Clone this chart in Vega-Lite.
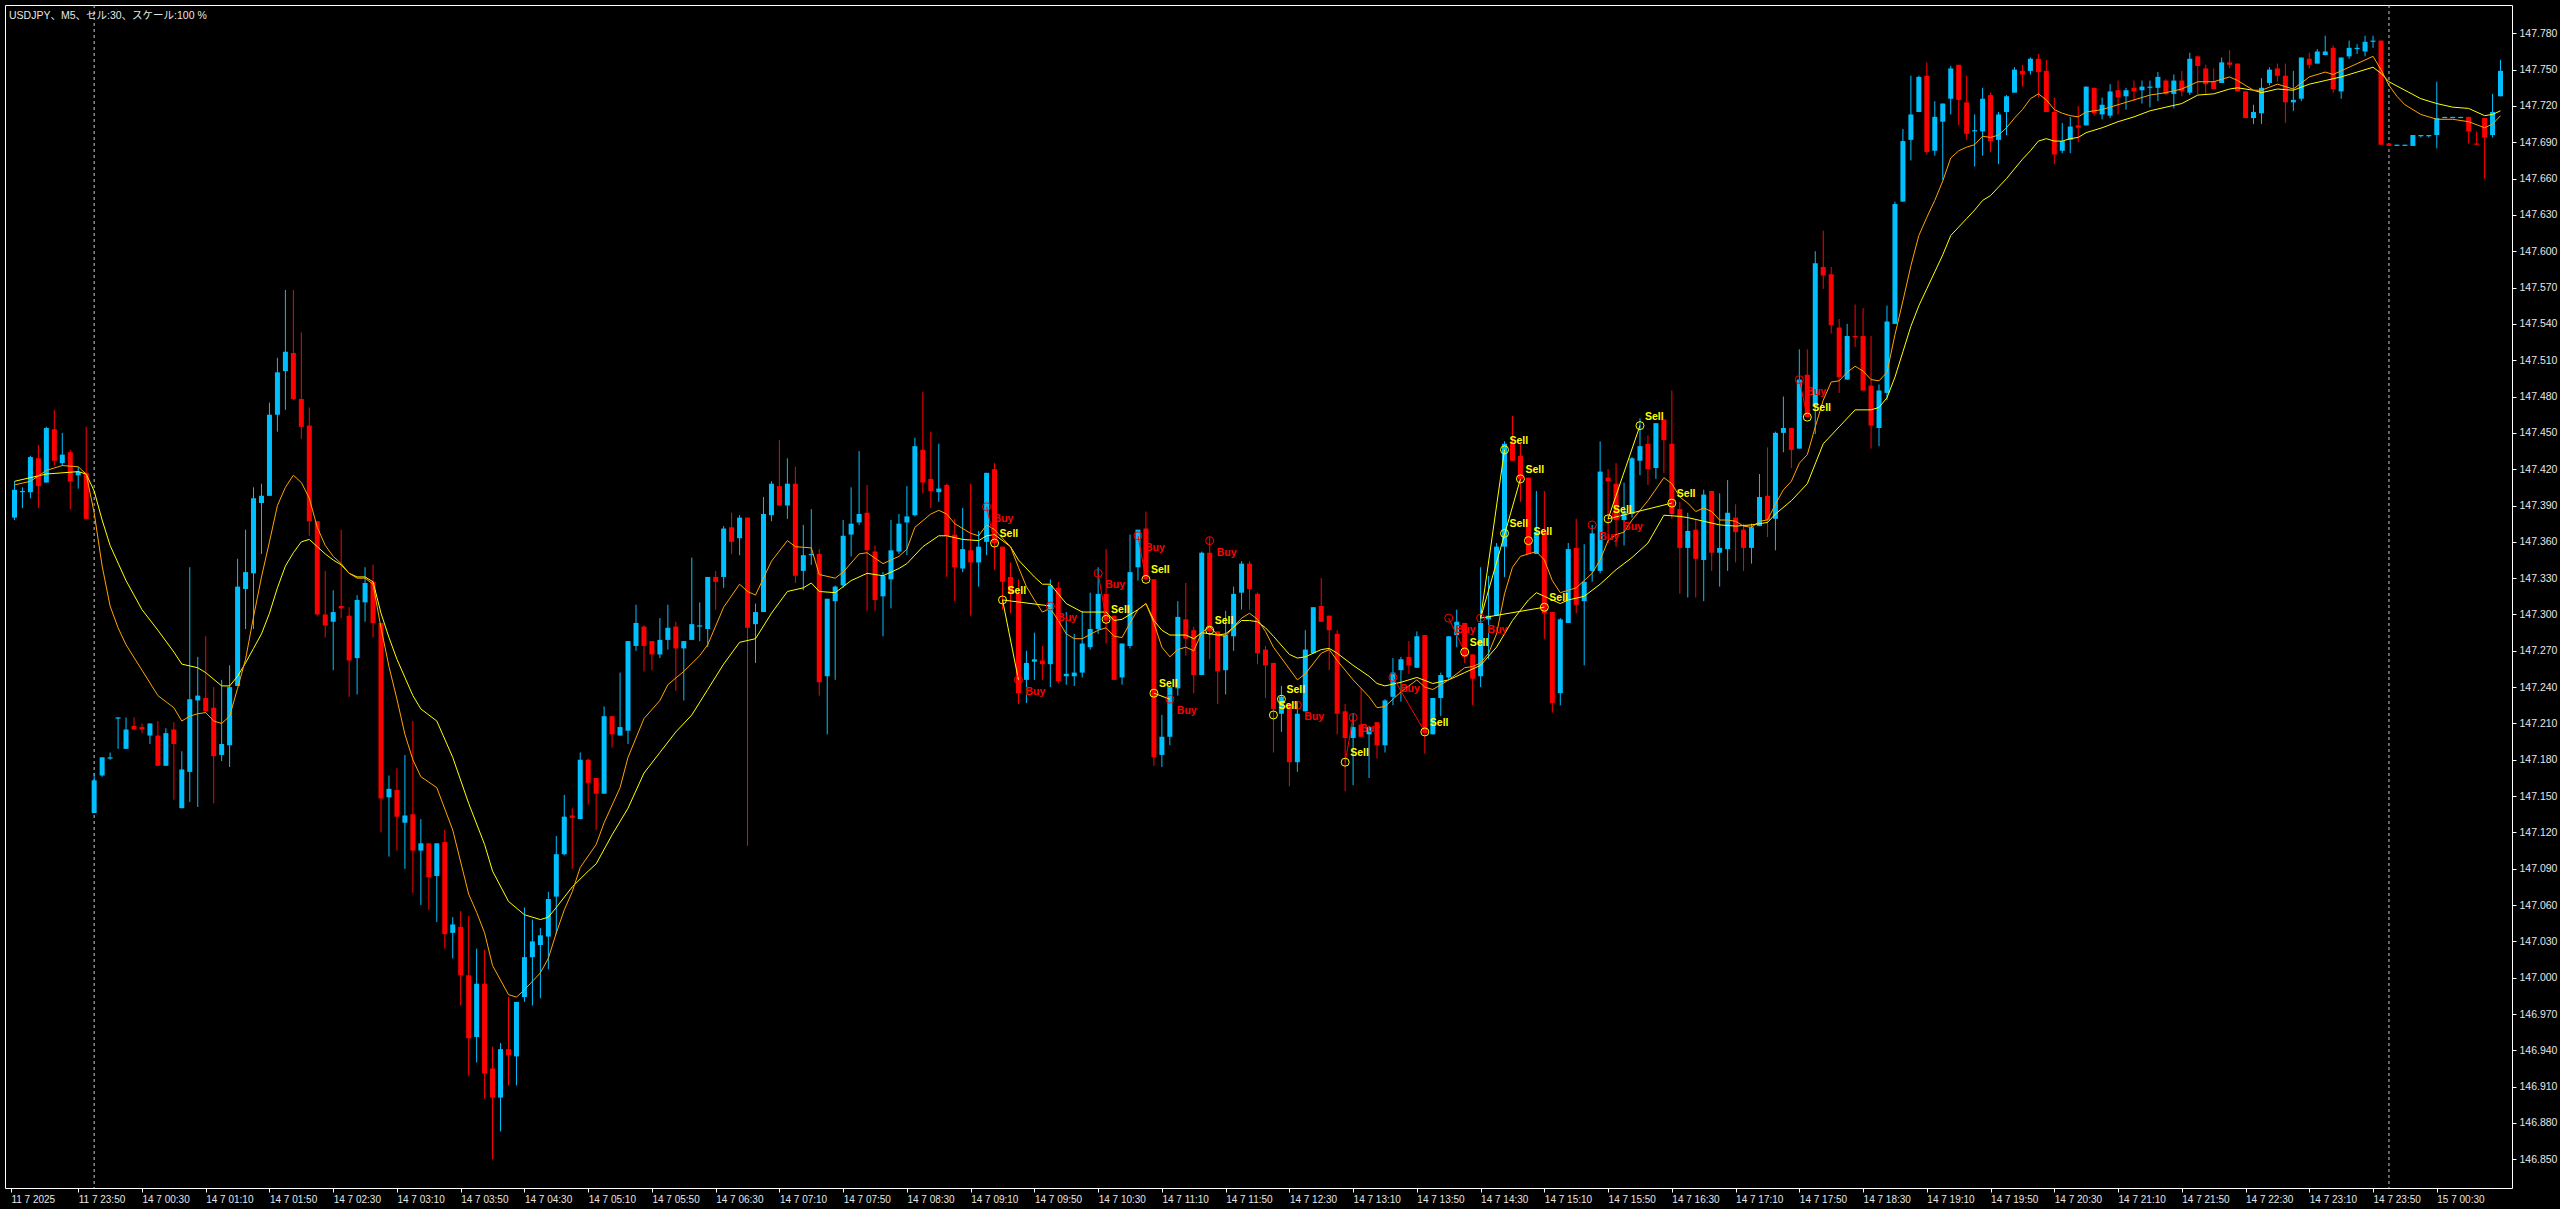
{
"$schema":"https://vega.github.io/schema/vega-lite/v6.json",
"width":2507,"height":1183,
"autosize":{"type":"none"},
"padding":{"left":5,"top":5,"right":48,"bottom":21},
"background":"#000000",
"config":{"view":{"stroke":"#ffffff","strokeWidth":1},"axis":{"grid":false,"domain":false,"labelOverlap":false,"labelSeparation":0}},
"title":{"text":"USDJPY、M5、セル:30、スケール:100 %","anchor":"start","frame":"group","orient":"top","baseline":"top","offset":-17,"dx":4,"fontSize":10.5,"fontWeight":"normal","color":"#e6e6e6","font":"Liberation Sans, Noto Sans CJK JP"},
"datasets":{
"candles":[
{"i":-10,"o":147.380,"h":147.410,"l":147.378,"c":147.403},
{"i":-9,"o":147.401,"h":147.405,"l":147.388,"c":147.402},
{"i":-8,"o":147.401,"h":147.431,"l":147.396,"c":147.430},
{"i":-7,"o":147.429,"h":147.440,"l":147.388,"c":147.406},
{"i":-6,"o":147.409,"h":147.455,"l":147.409,"c":147.454},
{"i":-5,"o":147.453,"h":147.469,"l":147.423,"c":147.427},
{"i":-4,"o":147.425,"h":147.450,"l":147.423,"c":147.432},
{"i":-3,"o":147.434,"h":147.436,"l":147.387,"c":147.410},
{"i":-2,"o":147.415,"h":147.422,"l":147.404,"c":147.418},
{"i":-1,"o":147.417,"h":147.455,"l":147.379,"c":147.379},
{"i":0,"o":147.136,"h":147.169,"l":147.136,"c":147.163},
{"i":1,"o":147.167,"h":147.182,"l":147.166,"c":147.182},
{"i":2,"o":147.181,"h":147.186,"l":147.180,"c":147.182},
{"i":3,"o":147.214,"h":147.215,"l":147.189,"c":147.215},
{"i":4,"o":147.189,"h":147.215,"l":147.189,"c":147.205},
{"i":5,"o":147.208,"h":147.215,"l":147.205,"c":147.205},
{"i":6,"o":147.207,"h":147.210,"l":147.202,"c":147.205},
{"i":7,"o":147.200,"h":147.210,"l":147.193,"c":147.210},
{"i":8,"o":147.200,"h":147.212,"l":147.175,"c":147.175},
{"i":9,"o":147.175,"h":147.206,"l":147.175,"c":147.202},
{"i":10,"o":147.205,"h":147.211,"l":147.147,"c":147.193},
{"i":11,"o":147.140,"h":147.187,"l":147.140,"c":147.172},
{"i":12,"o":147.170,"h":147.339,"l":147.145,"c":147.230},
{"i":13,"o":147.229,"h":147.265,"l":147.141,"c":147.233},
{"i":14,"o":147.231,"h":147.282,"l":147.219,"c":147.220},
{"i":15,"o":147.223,"h":147.240,"l":147.144,"c":147.183},
{"i":16,"o":147.184,"h":147.246,"l":147.179,"c":147.193},
{"i":17,"o":147.192,"h":147.258,"l":147.174,"c":147.240},
{"i":18,"o":147.241,"h":147.346,"l":147.241,"c":147.323},
{"i":19,"o":147.321,"h":147.370,"l":147.288,"c":147.335},
{"i":20,"o":147.334,"h":147.405,"l":147.288,"c":147.396},
{"i":21,"o":147.392,"h":147.408,"l":147.350,"c":147.398},
{"i":22,"o":147.398,"h":147.475,"l":147.398,"c":147.465},
{"i":23,"o":147.465,"h":147.512,"l":147.451,"c":147.500},
{"i":24,"o":147.501,"h":147.568,"l":147.469,"c":147.517},
{"i":25,"o":147.516,"h":147.568,"l":147.477,"c":147.478},
{"i":26,"o":147.478,"h":147.533,"l":147.445,"c":147.455},
{"i":27,"o":147.456,"h":147.471,"l":147.365,"c":147.377},
{"i":28,"o":147.377,"h":147.377,"l":147.299,"c":147.300},
{"i":29,"o":147.300,"h":147.336,"l":147.281,"c":147.291},
{"i":30,"o":147.294,"h":147.320,"l":147.254,"c":147.302},
{"i":31,"o":147.307,"h":147.370,"l":147.297,"c":147.305},
{"i":32,"o":147.299,"h":147.306,"l":147.232,"c":147.262},
{"i":33,"o":147.264,"h":147.316,"l":147.234,"c":147.312},
{"i":34,"o":147.310,"h":147.339,"l":147.294,"c":147.326},
{"i":35,"o":147.327,"h":147.341,"l":147.281,"c":147.293},
{"i":36,"o":147.293,"h":147.293,"l":147.120,"c":147.148},
{"i":37,"o":147.149,"h":147.167,"l":147.100,"c":147.156},
{"i":38,"o":147.155,"h":147.173,"l":147.105,"c":147.133},
{"i":39,"o":147.128,"h":147.184,"l":147.090,"c":147.134},
{"i":40,"o":147.135,"h":147.212,"l":147.070,"c":147.105},
{"i":41,"o":147.105,"h":147.131,"l":147.060,"c":147.111},
{"i":42,"o":147.111,"h":147.111,"l":147.056,"c":147.083},
{"i":43,"o":147.084,"h":147.111,"l":147.046,"c":147.111},
{"i":44,"o":147.112,"h":147.122,"l":147.024,"c":147.036},
{"i":45,"o":147.037,"h":147.050,"l":147.016,"c":147.044},
{"i":46,"o":147.042,"h":147.055,"l":146.977,"c":147.002},
{"i":47,"o":147.002,"h":147.051,"l":146.919,"c":146.950},
{"i":48,"o":146.951,"h":147.024,"l":146.930,"c":146.995},
{"i":49,"o":146.995,"h":147.023,"l":146.900,"c":146.921},
{"i":50,"o":146.925,"h":146.943,"l":146.850,"c":146.901},
{"i":51,"o":146.901,"h":146.946,"l":146.873,"c":146.941},
{"i":52,"o":146.941,"h":146.984,"l":146.911,"c":146.936},
{"i":53,"o":146.935,"h":146.980,"l":146.911,"c":146.980},
{"i":54,"o":146.984,"h":147.058,"l":146.980,"c":147.017},
{"i":55,"o":147.017,"h":147.048,"l":146.977,"c":147.030},
{"i":56,"o":147.027,"h":147.041,"l":146.983,"c":147.035},
{"i":57,"o":147.034,"h":147.071,"l":147.007,"c":147.065},
{"i":58,"o":147.067,"h":147.117,"l":147.036,"c":147.102},
{"i":59,"o":147.102,"h":147.151,"l":147.101,"c":147.133},
{"i":60,"o":147.134,"h":147.140,"l":147.090,"c":147.132},
{"i":61,"o":147.131,"h":147.186,"l":147.131,"c":147.180},
{"i":62,"o":147.180,"h":147.181,"l":147.143,"c":147.161},
{"i":63,"o":147.165,"h":147.165,"l":147.122,"c":147.152},
{"i":64,"o":147.152,"h":147.224,"l":147.152,"c":147.216},
{"i":65,"o":147.216,"h":147.216,"l":147.190,"c":147.201},
{"i":66,"o":147.200,"h":147.252,"l":147.200,"c":147.207},
{"i":67,"o":147.204,"h":147.278,"l":147.193,"c":147.278},
{"i":68,"o":147.274,"h":147.308,"l":147.270,"c":147.293},
{"i":69,"o":147.290,"h":147.291,"l":147.253,"c":147.274},
{"i":70,"o":147.278,"h":147.278,"l":147.254,"c":147.267},
{"i":71,"o":147.267,"h":147.297,"l":147.264,"c":147.279},
{"i":72,"o":147.279,"h":147.308,"l":147.271,"c":147.289},
{"i":73,"o":147.290,"h":147.294,"l":147.237,"c":147.272},
{"i":74,"o":147.272,"h":147.278,"l":147.229,"c":147.278},
{"i":75,"o":147.279,"h":147.347,"l":147.279,"c":147.292},
{"i":76,"o":147.290,"h":147.310,"l":147.278,"c":147.291},
{"i":77,"o":147.288,"h":147.331,"l":147.273,"c":147.331},
{"i":78,"o":147.331,"h":147.336,"l":147.304,"c":147.327},
{"i":79,"o":147.331,"h":147.373,"l":147.322,"c":147.371},
{"i":80,"o":147.372,"h":147.384,"l":147.350,"c":147.360},
{"i":81,"o":147.363,"h":147.382,"l":147.349,"c":147.380},
{"i":82,"o":147.380,"h":147.380,"l":147.109,"c":147.289},
{"i":83,"o":147.292,"h":147.309,"l":147.260,"c":147.302},
{"i":84,"o":147.302,"h":147.397,"l":147.302,"c":147.383},
{"i":85,"o":147.382,"h":147.410,"l":147.377,"c":147.408},
{"i":86,"o":147.406,"h":147.444,"l":147.390,"c":147.390},
{"i":87,"o":147.390,"h":147.429,"l":147.379,"c":147.408},
{"i":88,"o":147.408,"h":147.422,"l":147.326,"c":147.332},
{"i":89,"o":147.336,"h":147.374,"l":147.320,"c":147.349},
{"i":90,"o":147.349,"h":147.387,"l":147.341,"c":147.350},
{"i":91,"o":147.350,"h":147.354,"l":147.233,"c":147.244},
{"i":92,"o":147.249,"h":147.313,"l":147.201,"c":147.313},
{"i":93,"o":147.311,"h":147.324,"l":147.246,"c":147.323},
{"i":94,"o":147.324,"h":147.378,"l":147.322,"c":147.365},
{"i":95,"o":147.366,"h":147.405,"l":147.348,"c":147.375},
{"i":96,"o":147.376,"h":147.435,"l":147.374,"c":147.383},
{"i":97,"o":147.384,"h":147.407,"l":147.303,"c":147.353},
{"i":98,"o":147.352,"h":147.357,"l":147.303,"c":147.312},
{"i":99,"o":147.315,"h":147.335,"l":147.282,"c":147.332},
{"i":100,"o":147.329,"h":147.378,"l":147.305,"c":147.353},
{"i":101,"o":147.352,"h":147.383,"l":147.350,"c":147.375},
{"i":102,"o":147.376,"h":147.406,"l":147.349,"c":147.381},
{"i":103,"o":147.382,"h":147.446,"l":147.381,"c":147.439},
{"i":104,"o":147.436,"h":147.484,"l":147.400,"c":147.409},
{"i":105,"o":147.412,"h":147.451,"l":147.388,"c":147.402},
{"i":106,"o":147.401,"h":147.441,"l":147.393,"c":147.404},
{"i":107,"o":147.407,"h":147.408,"l":147.331,"c":147.365},
{"i":108,"o":147.366,"h":147.379,"l":147.311,"c":147.339},
{"i":109,"o":147.338,"h":147.388,"l":147.335,"c":147.354},
{"i":110,"o":147.353,"h":147.408,"l":147.299,"c":147.343},
{"i":111,"o":147.343,"h":147.369,"l":147.323,"c":147.356},
{"i":112,"o":147.360,"h":147.417,"l":147.349,"c":147.417},
{"i":113,"o":147.420,"h":147.425,"l":147.337,"c":147.359},
{"i":114,"o":147.356,"h":147.356,"l":147.304,"c":147.327},
{"i":115,"o":147.331,"h":147.343,"l":147.301,"c":147.317},
{"i":116,"o":147.317,"h":147.329,"l":147.226,"c":147.235},
{"i":117,"o":147.246,"h":147.270,"l":147.227,"c":147.260},
{"i":118,"o":147.261,"h":147.285,"l":147.246,"c":147.263},
{"i":119,"o":147.262,"h":147.274,"l":147.246,"c":147.259},
{"i":120,"o":147.259,"h":147.329,"l":147.240,"c":147.324},
{"i":121,"o":147.322,"h":147.327,"l":147.243,"c":147.245},
{"i":122,"o":147.249,"h":147.302,"l":147.242,"c":147.251},
{"i":123,"o":147.249,"h":147.284,"l":147.241,"c":147.252},
{"i":124,"o":147.252,"h":147.303,"l":147.248,"c":147.276},
{"i":125,"o":147.273,"h":147.318,"l":147.271,"c":147.288},
{"i":126,"o":147.288,"h":147.339,"l":147.284,"c":147.317},
{"i":127,"o":147.317,"h":147.354,"l":147.276,"c":147.295},
{"i":128,"o":147.299,"h":147.299,"l":147.246,"c":147.246},
{"i":129,"o":147.248,"h":147.276,"l":147.242,"c":147.276},
{"i":130,"o":147.274,"h":147.366,"l":147.272,"c":147.335},
{"i":131,"o":147.339,"h":147.370,"l":147.328,"c":147.370},
{"i":132,"o":147.371,"h":147.385,"l":147.328,"c":147.329},
{"i":133,"o":147.329,"h":147.329,"l":147.175,"c":147.182},
{"i":134,"o":147.184,"h":147.217,"l":147.174,"c":147.199},
{"i":135,"o":147.199,"h":147.240,"l":147.192,"c":147.240},
{"i":136,"o":147.239,"h":147.311,"l":147.233,"c":147.298},
{"i":137,"o":147.296,"h":147.326,"l":147.266,"c":147.280},
{"i":138,"o":147.287,"h":147.290,"l":147.235,"c":147.250},
{"i":139,"o":147.250,"h":147.352,"l":147.250,"c":147.351},
{"i":140,"o":147.351,"h":147.364,"l":147.263,"c":147.286},
{"i":141,"o":147.286,"h":147.286,"l":147.226,"c":147.253},
{"i":142,"o":147.254,"h":147.303,"l":147.234,"c":147.283},
{"i":143,"o":147.282,"h":147.323,"l":147.270,"c":147.317},
{"i":144,"o":147.318,"h":147.344,"l":147.304,"c":147.342},
{"i":145,"o":147.342,"h":147.344,"l":147.304,"c":147.321},
{"i":146,"o":147.317,"h":147.318,"l":147.259,"c":147.268},
{"i":147,"o":147.271,"h":147.274,"l":147.231,"c":147.258},
{"i":148,"o":147.260,"h":147.260,"l":147.186,"c":147.222},
{"i":149,"o":147.218,"h":147.241,"l":147.203,"c":147.232},
{"i":150,"o":147.226,"h":147.226,"l":147.158,"c":147.178},
{"i":151,"o":147.178,"h":147.228,"l":147.170,"c":147.218},
{"i":152,"o":147.220,"h":147.287,"l":147.220,"c":147.271},
{"i":153,"o":147.268,"h":147.306,"l":147.268,"c":147.306},
{"i":154,"o":147.307,"h":147.330,"l":147.294,"c":147.294},
{"i":155,"o":147.299,"h":147.299,"l":147.254,"c":147.287},
{"i":156,"o":147.284,"h":147.287,"l":147.201,"c":147.218},
{"i":157,"o":147.220,"h":147.226,"l":147.154,"c":147.198},
{"i":158,"o":147.198,"h":147.218,"l":147.159,"c":147.207},
{"i":159,"o":147.209,"h":147.239,"l":147.199,"c":147.199},
{"i":160,"o":147.201,"h":147.208,"l":147.165,"c":147.207},
{"i":161,"o":147.211,"h":147.211,"l":147.181,"c":147.192},
{"i":162,"o":147.192,"h":147.230,"l":147.186,"c":147.229},
{"i":163,"o":147.232,"h":147.264,"l":147.225,"c":147.252},
{"i":164,"o":147.254,"h":147.265,"l":147.228,"c":147.263},
{"i":165,"o":147.265,"h":147.278,"l":147.251,"c":147.258},
{"i":166,"o":147.256,"h":147.286,"l":147.256,"c":147.282},
{"i":167,"o":147.283,"h":147.283,"l":147.185,"c":147.202},
{"i":168,"o":147.201,"h":147.231,"l":147.201,"c":147.231},
{"i":169,"o":147.231,"h":147.252,"l":147.216,"c":147.250},
{"i":170,"o":147.248,"h":147.282,"l":147.246,"c":147.282},
{"i":171,"o":147.283,"h":147.304,"l":147.273,"c":147.294},
{"i":172,"o":147.293,"h":147.293,"l":147.260,"c":147.265},
{"i":173,"o":147.267,"h":147.267,"l":147.225,"c":147.247},
{"i":174,"o":147.249,"h":147.339,"l":147.240,"c":147.293},
{"i":175,"o":147.296,"h":147.332,"l":147.263,"c":147.299},
{"i":176,"o":147.299,"h":147.359,"l":147.299,"c":147.356},
{"i":177,"o":147.356,"h":147.443,"l":147.331,"c":147.441},
{"i":178,"o":147.441,"h":147.464,"l":147.427,"c":147.427},
{"i":179,"o":147.431,"h":147.441,"l":147.393,"c":147.412},
{"i":180,"o":147.413,"h":147.413,"l":147.350,"c":147.350},
{"i":181,"o":147.350,"h":147.402,"l":147.350,"c":147.368},
{"i":182,"o":147.368,"h":147.402,"l":147.280,"c":147.301},
{"i":183,"o":147.302,"h":147.302,"l":147.219,"c":147.227},
{"i":184,"o":147.235,"h":147.297,"l":147.225,"c":147.296},
{"i":185,"o":147.293,"h":147.359,"l":147.293,"c":147.354},
{"i":186,"o":147.355,"h":147.379,"l":147.301,"c":147.308},
{"i":187,"o":147.311,"h":147.358,"l":147.258,"c":147.327},
{"i":188,"o":147.336,"h":147.374,"l":147.327,"c":147.367},
{"i":189,"o":147.336,"h":147.443,"l":147.334,"c":147.418},
{"i":190,"o":147.413,"h":147.420,"l":147.359,"c":147.410},
{"i":191,"o":147.408,"h":147.425,"l":147.356,"c":147.378},
{"i":192,"o":147.378,"h":147.409,"l":147.357,"c":147.385},
{"i":193,"o":147.383,"h":147.430,"l":147.380,"c":147.429},
{"i":194,"o":147.427,"h":147.462,"l":147.415,"c":147.439},
{"i":195,"o":147.441,"h":147.448,"l":147.407,"c":147.420},
{"i":196,"o":147.421,"h":147.458,"l":147.412,"c":147.458},
{"i":197,"o":147.461,"h":147.461,"l":147.417,"c":147.444},
{"i":198,"o":147.441,"h":147.485,"l":147.379,"c":147.383},
{"i":199,"o":147.387,"h":147.393,"l":147.317,"c":147.355},
{"i":200,"o":147.355,"h":147.384,"l":147.314,"c":147.369},
{"i":201,"o":147.370,"h":147.378,"l":147.314,"c":147.346},
{"i":202,"o":147.345,"h":147.403,"l":147.311,"c":147.399},
{"i":203,"o":147.402,"h":147.402,"l":147.336,"c":147.351},
{"i":204,"o":147.351,"h":147.400,"l":147.323,"c":147.355},
{"i":205,"o":147.354,"h":147.411,"l":147.336,"c":147.384},
{"i":206,"o":147.380,"h":147.391,"l":147.343,"c":147.368},
{"i":207,"o":147.370,"h":147.375,"l":147.336,"c":147.355},
{"i":208,"o":147.355,"h":147.375,"l":147.342,"c":147.372},
{"i":209,"o":147.373,"h":147.416,"l":147.373,"c":147.397},
{"i":210,"o":147.398,"h":147.438,"l":147.364,"c":147.378},
{"i":211,"o":147.379,"h":147.451,"l":147.353,"c":147.450},
{"i":212,"o":147.450,"h":147.480,"l":147.434,"c":147.454},
{"i":213,"o":147.454,"h":147.454,"l":147.421,"c":147.436},
{"i":214,"o":147.437,"h":147.519,"l":147.437,"c":147.494},
{"i":215,"o":147.498,"h":147.519,"l":147.463,"c":147.463},
{"i":216,"o":147.472,"h":147.600,"l":147.449,"c":147.590},
{"i":217,"o":147.587,"h":147.617,"l":147.569,"c":147.580},
{"i":218,"o":147.581,"h":147.587,"l":147.532,"c":147.539},
{"i":219,"o":147.537,"h":147.544,"l":147.483,"c":147.496},
{"i":220,"o":147.494,"h":147.540,"l":147.494,"c":147.530},
{"i":221,"o":147.530,"h":147.556,"l":147.521,"c":147.529},
{"i":222,"o":147.530,"h":147.553,"l":147.485,"c":147.485},
{"i":223,"o":147.489,"h":147.530,"l":147.437,"c":147.456},
{"i":224,"o":147.454,"h":147.490,"l":147.439,"c":147.485},
{"i":225,"o":147.483,"h":147.555,"l":147.477,"c":147.542},
{"i":226,"o":147.540,"h":147.641,"l":147.540,"c":147.639},
{"i":227,"o":147.641,"h":147.701,"l":147.641,"c":147.691},
{"i":228,"o":147.692,"h":147.745,"l":147.675,"c":147.713},
{"i":229,"o":147.715,"h":147.745,"l":147.715,"c":147.744},
{"i":230,"o":147.745,"h":147.756,"l":147.680,"c":147.682},
{"i":231,"o":147.683,"h":147.724,"l":147.679,"c":147.711},
{"i":232,"o":147.707,"h":147.722,"l":147.659,"c":147.722},
{"i":233,"o":147.726,"h":147.753,"l":147.713,"c":147.751},
{"i":234,"o":147.754,"h":147.754,"l":147.704,"c":147.725},
{"i":235,"o":147.723,"h":147.745,"l":147.692,"c":147.697},
{"i":236,"o":147.699,"h":147.713,"l":147.670,"c":147.700},
{"i":237,"o":147.699,"h":147.735,"l":147.679,"c":147.726},
{"i":238,"o":147.729,"h":147.731,"l":147.682,"c":147.691},
{"i":239,"o":147.692,"h":147.715,"l":147.672,"c":147.713},
{"i":240,"o":147.715,"h":147.729,"l":147.696,"c":147.728},
{"i":241,"o":147.731,"h":147.752,"l":147.731,"c":147.750},
{"i":242,"o":147.749,"h":147.754,"l":147.736,"c":147.746},
{"i":243,"o":147.749,"h":147.760,"l":147.746,"c":147.759},
{"i":244,"o":147.759,"h":147.763,"l":147.727,"c":147.748},
{"i":245,"o":147.749,"h":147.758,"l":147.715,"c":147.715},
{"i":246,"o":147.715,"h":147.727,"l":147.672,"c":147.680},
{"i":247,"o":147.683,"h":147.706,"l":147.681,"c":147.691},
{"i":248,"o":147.692,"h":147.711,"l":147.681,"c":147.703},
{"i":249,"o":147.704,"h":147.720,"l":147.690,"c":147.702},
{"i":250,"o":147.704,"h":147.736,"l":147.704,"c":147.736},
{"i":251,"o":147.735,"h":147.735,"l":147.712,"c":147.714},
{"i":252,"o":147.713,"h":147.727,"l":147.709,"c":147.721},
{"i":253,"o":147.712,"h":147.738,"l":147.710,"c":147.732},
{"i":254,"o":147.733,"h":147.741,"l":147.713,"c":147.727},
{"i":255,"o":147.728,"h":147.735,"l":147.717,"c":147.733},
{"i":256,"o":147.735,"h":147.741,"l":147.724,"c":147.732},
{"i":257,"o":147.733,"h":147.741,"l":147.722,"c":147.736},
{"i":258,"o":147.735,"h":147.741,"l":147.719,"c":147.736},
{"i":259,"o":147.735,"h":147.748,"l":147.724,"c":147.744},
{"i":260,"o":147.741,"h":147.742,"l":147.729,"c":147.730},
{"i":261,"o":147.730,"h":147.746,"l":147.718,"c":147.741},
{"i":262,"o":147.741,"h":147.749,"l":147.728,"c":147.732},
{"i":263,"o":147.731,"h":147.764,"l":147.729,"c":147.759},
{"i":264,"o":147.761,"h":147.761,"l":147.730,"c":147.753},
{"i":265,"o":147.751,"h":147.754,"l":147.730,"c":147.738},
{"i":266,"o":147.740,"h":147.751,"l":147.734,"c":147.734},
{"i":267,"o":147.739,"h":147.760,"l":147.739,"c":147.756},
{"i":268,"o":147.756,"h":147.766,"l":147.751,"c":147.754},
{"i":269,"o":147.755,"h":147.755,"l":147.732,"c":147.732},
{"i":270,"o":147.732,"h":147.732,"l":147.710,"c":147.710},
{"i":271,"o":147.710,"h":147.721,"l":147.705,"c":147.715},
{"i":272,"o":147.714,"h":147.743,"l":147.705,"c":147.735},
{"i":273,"o":147.739,"h":147.752,"l":147.737,"c":147.750},
{"i":274,"o":147.751,"h":147.755,"l":147.740,"c":147.745},
{"i":275,"o":147.745,"h":147.755,"l":147.706,"c":147.723},
{"i":276,"o":147.723,"h":147.749,"l":147.716,"c":147.725},
{"i":277,"o":147.726,"h":147.760,"l":147.724,"c":147.760},
{"i":278,"o":147.759,"h":147.764,"l":147.751,"c":147.754},
{"i":279,"o":147.755,"h":147.767,"l":147.755,"c":147.765},
{"i":280,"o":147.762,"h":147.778,"l":147.762,"c":147.765},
{"i":281,"o":147.768,"h":147.770,"l":147.731,"c":147.734},
{"i":282,"o":147.732,"h":147.760,"l":147.726,"c":147.760},
{"i":283,"o":147.761,"h":147.774,"l":147.759,"c":147.768},
{"i":284,"o":147.767,"h":147.771,"l":147.763,"c":147.768},
{"i":285,"o":147.765,"h":147.778,"l":147.761,"c":147.773},
{"i":286,"o":147.773,"h":147.778,"l":147.768,"c":147.774},
{"i":287,"o":147.774,"h":147.774,"l":147.688,"c":147.688},
{"i":288,"o":147.689,"h":147.689,"l":147.687,"c":147.687},
{"i":289,"o":147.687,"h":147.688,"l":147.687,"c":147.688},
{"i":290,"o":147.687,"h":147.688,"l":147.687,"c":147.688},
{"i":291,"o":147.687,"h":147.696,"l":147.687,"c":147.696},
{"i":292,"o":147.695,"h":147.696,"l":147.694,"c":147.696},
{"i":293,"o":147.695,"h":147.696,"l":147.694,"c":147.696},
{"i":294,"o":147.696,"h":147.740,"l":147.685,"c":147.710},
{"i":295,"o":147.710,"h":147.711,"l":147.710,"c":147.711},
{"i":296,"o":147.710,"h":147.711,"l":147.710,"c":147.711},
{"i":297,"o":147.710,"h":147.711,"l":147.710,"c":147.711},
{"i":298,"o":147.711,"h":147.711,"l":147.689,"c":147.699},
{"i":299,"o":147.689,"h":147.699,"l":147.688,"c":147.688},
{"i":300,"o":147.710,"h":147.710,"l":147.660,"c":147.694},
{"i":301,"o":147.696,"h":147.730,"l":147.694,"c":147.715},
{"i":302,"o":147.728,"h":147.758,"l":147.728,"c":147.749}
],
"slow":[
{"i":-10,"v":147.410},{"i":-6,"v":147.416},{"i":-2,"v":147.418},{"i":-1,"v":147.416},{"i":0,"v":147.402},{"i":1,"v":147.378},{"i":2,"v":147.357},{"i":4,"v":147.328},{"i":6,"v":147.304},{"i":8,"v":147.287},{"i":10,"v":147.269},{"i":11,"v":147.259},{"i":13,"v":147.256},{"i":14,"v":147.252},{"i":16,"v":147.241},{"i":17,"v":147.241},{"i":18,"v":147.249},{"i":19,"v":147.260},{"i":20,"v":147.272},{"i":21,"v":147.284},{"i":22,"v":147.301},{"i":23,"v":147.322},{"i":24,"v":147.340},{"i":25,"v":147.351},{"i":26,"v":147.360},{"i":27,"v":147.362},{"i":28,"v":147.356},{"i":29,"v":147.350},{"i":30,"v":147.345},{"i":31,"v":147.341},{"i":32,"v":147.334},{"i":33,"v":147.331},{"i":34,"v":147.331},{"i":35,"v":147.327},{"i":36,"v":147.301},{"i":37,"v":147.281},{"i":38,"v":147.263},{"i":39,"v":147.248},{"i":40,"v":147.233},{"i":41,"v":147.222},{"i":43,"v":147.212},{"i":45,"v":147.182},{"i":47,"v":147.144},{"i":49,"v":147.110},{"i":50,"v":147.088},{"i":52,"v":147.063},{"i":54,"v":147.052},{"i":56,"v":147.048},{"i":57,"v":147.050},{"i":58,"v":147.058},{"i":60,"v":147.075},{"i":62,"v":147.088},{"i":63,"v":147.094},{"i":65,"v":147.118},{"i":67,"v":147.140},{"i":69,"v":147.169},{"i":71,"v":147.186},{"i":73,"v":147.203},{"i":75,"v":147.217},{"i":77,"v":147.238},{"i":79,"v":147.259},{"i":81,"v":147.277},{"i":83,"v":147.280},{"i":85,"v":147.301},{"i":87,"v":147.319},{"i":89,"v":147.322},{"i":90,"v":147.326},{"i":91,"v":147.319},{"i":93,"v":147.318},{"i":94,"v":147.323},{"i":95,"v":147.328},{"i":97,"v":147.334},{"i":99,"v":147.332},{"i":101,"v":147.338},{"i":102,"v":147.342},{"i":104,"v":147.356},{"i":106,"v":147.365},{"i":107,"v":147.365},{"i":109,"v":147.362},{"i":111,"v":147.361},{"i":112,"v":147.365},{"i":113,"v":147.366},{"i":115,"v":147.356},{"i":116,"v":147.345},{"i":118,"v":147.331},{"i":119,"v":147.325},{"i":120,"v":147.325},{"i":122,"v":147.309},{"i":124,"v":147.302},{"i":126,"v":147.302},{"i":127,"v":147.302},{"i":128,"v":147.295},{"i":129,"v":147.296},{"i":131,"v":147.304},{"i":132,"v":147.309},{"i":133,"v":147.295},{"i":134,"v":147.287},{"i":135,"v":147.283},{"i":137,"v":147.283},{"i":138,"v":147.280},{"i":139,"v":147.285},{"i":141,"v":147.283},{"i":142,"v":147.284},{"i":144,"v":147.295},{"i":145,"v":147.295},{"i":146,"v":147.294},{"i":147,"v":147.289},{"i":148,"v":147.282},{"i":150,"v":147.267},{"i":151,"v":147.264},{"i":152,"v":147.265},{"i":154,"v":147.271},{"i":155,"v":147.272},{"i":156,"v":147.268},{"i":158,"v":147.258},{"i":160,"v":147.249},{"i":161,"v":147.243},{"i":162,"v":147.241},{"i":164,"v":147.244},{"i":166,"v":147.248},{"i":168,"v":147.243},{"i":170,"v":147.246},{"i":172,"v":147.252},{"i":174,"v":147.258},{"i":176,"v":147.273},{"i":178,"v":147.295},{"i":180,"v":147.312},{"i":181,"v":147.318},{"i":182,"v":147.315},{"i":184,"v":147.309},{"i":185,"v":147.312},{"i":187,"v":147.315},{"i":189,"v":147.325},{"i":191,"v":147.337},{"i":193,"v":147.347},{"i":195,"v":147.359},{"i":197,"v":147.382},{"i":199,"v":147.381},{"i":200,"v":147.380},{"i":202,"v":147.377},{"i":204,"v":147.374},{"i":206,"v":147.373},{"i":208,"v":147.374},{"i":210,"v":147.376},{"i":211,"v":147.383},{"i":213,"v":147.394},{"i":215,"v":147.408},{"i":217,"v":147.441},{"i":219,"v":147.455},{"i":221,"v":147.469},{"i":223,"v":147.469},{"i":224,"v":147.471},{"i":225,"v":147.479},{"i":226,"v":147.496},{"i":227,"v":147.517},{"i":228,"v":147.538},{"i":229,"v":147.555},{"i":230,"v":147.569},{"i":231,"v":147.583},{"i":232,"v":147.597},{"i":233,"v":147.613},{"i":234,"v":147.620},{"i":235,"v":147.627},{"i":236,"v":147.634},{"i":237,"v":147.642},{"i":238,"v":147.646},{"i":239,"v":147.653},{"i":240,"v":147.660},{"i":241,"v":147.668},{"i":242,"v":147.676},{"i":243,"v":147.683},{"i":244,"v":147.691},{"i":245,"v":147.693},{"i":246,"v":147.691},{"i":247,"v":147.691},{"i":248,"v":147.693},{"i":249,"v":147.694},{"i":250,"v":147.698},{"i":252,"v":147.702},{"i":254,"v":147.707},{"i":256,"v":147.711},{"i":258,"v":147.716},{"i":260,"v":147.719},{"i":262,"v":147.722},{"i":264,"v":147.729},{"i":266,"v":147.730},{"i":268,"v":147.734},{"i":269,"v":147.735},{"i":271,"v":147.733},{"i":272,"v":147.731},{"i":274,"v":147.734},{"i":276,"v":147.733},{"i":278,"v":147.738},{"i":280,"v":147.741},{"i":282,"v":147.744},{"i":284,"v":147.748},{"i":286,"v":147.752},{"i":287,"v":147.747},{"i":288,"v":147.740},{"i":290,"v":147.733},{"i":292,"v":147.726},{"i":294,"v":147.722},{"i":296,"v":147.719},{"i":298,"v":147.718},{"i":300,"v":147.712},{"i":301,"v":147.713},{"i":302,"v":147.716}
],
"fast":[
{"i":-10,"v":147.407},{"i":-8,"v":147.410},{"i":-6,"v":147.419},{"i":-4,"v":147.423},{"i":-2,"v":147.422},{"i":-1,"v":147.416},{"i":0,"v":147.384},{"i":1,"v":147.340},{"i":2,"v":147.307},{"i":3,"v":147.289},{"i":4,"v":147.275},{"i":6,"v":147.254},{"i":8,"v":147.233},{"i":10,"v":147.223},{"i":11,"v":147.212},{"i":12,"v":147.216},{"i":13,"v":147.218},{"i":14,"v":147.219},{"i":15,"v":147.212},{"i":16,"v":147.210},{"i":17,"v":147.216},{"i":18,"v":147.239},{"i":19,"v":147.263},{"i":20,"v":147.298},{"i":21,"v":147.331},{"i":22,"v":147.360},{"i":23,"v":147.390},{"i":24,"v":147.405},{"i":25,"v":147.415},{"i":26,"v":147.409},{"i":27,"v":147.396},{"i":28,"v":147.372},{"i":29,"v":147.357},{"i":30,"v":147.348},{"i":31,"v":147.342},{"i":32,"v":147.334},{"i":33,"v":147.330},{"i":34,"v":147.330},{"i":35,"v":147.325},{"i":36,"v":147.289},{"i":37,"v":147.257},{"i":38,"v":147.230},{"i":39,"v":147.201},{"i":40,"v":147.180},{"i":41,"v":147.166},{"i":43,"v":147.157},{"i":45,"v":147.122},{"i":47,"v":147.069},{"i":48,"v":147.054},{"i":49,"v":147.037},{"i":50,"v":147.010},{"i":52,"v":146.986},{"i":53,"v":146.984},{"i":54,"v":146.990},{"i":56,"v":147.004},{"i":57,"v":147.016},{"i":58,"v":147.037},{"i":59,"v":147.056},{"i":60,"v":147.071},{"i":61,"v":147.091},{"i":63,"v":147.110},{"i":64,"v":147.128},{"i":66,"v":147.157},{"i":67,"v":147.182},{"i":69,"v":147.214},{"i":71,"v":147.229},{"i":72,"v":147.242},{"i":74,"v":147.253},{"i":76,"v":147.266},{"i":77,"v":147.275},{"i":79,"v":147.306},{"i":81,"v":147.325},{"i":82,"v":147.319},{"i":83,"v":147.316},{"i":85,"v":147.344},{"i":87,"v":147.361},{"i":88,"v":147.356},{"i":90,"v":147.355},{"i":91,"v":147.333},{"i":93,"v":147.330},{"i":94,"v":147.335},{"i":96,"v":147.350},{"i":97,"v":147.351},{"i":99,"v":147.342},{"i":101,"v":147.348},{"i":102,"v":147.354},{"i":103,"v":147.372},{"i":105,"v":147.383},{"i":106,"v":147.386},{"i":107,"v":147.383},{"i":108,"v":147.375},{"i":110,"v":147.367},{"i":111,"v":147.365},{"i":112,"v":147.374},{"i":113,"v":147.370},{"i":115,"v":147.356},{"i":116,"v":147.339},{"i":117,"v":147.323},{"i":118,"v":147.312},{"i":119,"v":147.302},{"i":120,"v":147.305},{"i":121,"v":147.295},{"i":122,"v":147.284},{"i":123,"v":147.280},{"i":124,"v":147.280},{"i":126,"v":147.287},{"i":127,"v":147.289},{"i":128,"v":147.282},{"i":129,"v":147.281},{"i":130,"v":147.293},{"i":131,"v":147.304},{"i":132,"v":147.309},{"i":133,"v":147.293},{"i":134,"v":147.273},{"i":135,"v":147.265},{"i":136,"v":147.271},{"i":137,"v":147.273},{"i":138,"v":147.270},{"i":139,"v":147.285},{"i":140,"v":147.290},{"i":141,"v":147.283},{"i":142,"v":147.282},{"i":143,"v":147.290},{"i":144,"v":147.297},{"i":145,"v":147.301},{"i":146,"v":147.296},{"i":147,"v":147.286},{"i":148,"v":147.273},{"i":150,"v":147.255},{"i":151,"v":147.246},{"i":152,"v":147.251},{"i":154,"v":147.268},{"i":155,"v":147.271},{"i":156,"v":147.262},{"i":158,"v":147.246},{"i":160,"v":147.232},{"i":161,"v":147.223},{"i":162,"v":147.224},{"i":164,"v":147.236},{"i":166,"v":147.246},{"i":167,"v":147.240},{"i":168,"v":147.238},{"i":170,"v":147.246},{"i":172,"v":147.256},{"i":173,"v":147.257},{"i":174,"v":147.260},{"i":175,"v":147.268},{"i":176,"v":147.284},{"i":177,"v":147.317},{"i":178,"v":147.339},{"i":179,"v":147.348},{"i":180,"v":147.350},{"i":181,"v":147.352},{"i":182,"v":147.345},{"i":183,"v":147.328},{"i":184,"v":147.318},{"i":185,"v":147.320},{"i":186,"v":147.322},{"i":187,"v":147.328},{"i":188,"v":147.334},{"i":189,"v":147.345},{"i":190,"v":147.361},{"i":191,"v":147.366},{"i":192,"v":147.368},{"i":193,"v":147.378},{"i":195,"v":147.394},{"i":197,"v":147.413},{"i":198,"v":147.408},{"i":199,"v":147.397},{"i":200,"v":147.392},{"i":201,"v":147.385},{"i":202,"v":147.388},{"i":203,"v":147.385},{"i":204,"v":147.378},{"i":205,"v":147.378},{"i":206,"v":147.377},{"i":207,"v":147.373},{"i":208,"v":147.372},{"i":209,"v":147.377},{"i":210,"v":147.378},{"i":211,"v":147.391},{"i":212,"v":147.403},{"i":213,"v":147.410},{"i":214,"v":147.425},{"i":215,"v":147.432},{"i":216,"v":147.455},{"i":217,"v":147.477},{"i":218,"v":147.492},{"i":219,"v":147.493},{"i":220,"v":147.500},{"i":221,"v":147.505},{"i":222,"v":147.501},{"i":223,"v":147.494},{"i":224,"v":147.493},{"i":225,"v":147.500},{"i":226,"v":147.531},{"i":227,"v":147.559},{"i":228,"v":147.588},{"i":229,"v":147.613},{"i":230,"v":147.628},{"i":231,"v":147.642},{"i":232,"v":147.658},{"i":233,"v":147.677},{"i":234,"v":147.683},{"i":235,"v":147.686},{"i":236,"v":147.688},{"i":237,"v":147.695},{"i":238,"v":147.694},{"i":239,"v":147.696},{"i":240,"v":147.702},{"i":241,"v":147.710},{"i":242,"v":147.717},{"i":243,"v":147.726},{"i":244,"v":147.730},{"i":245,"v":147.725},{"i":246,"v":147.717},{"i":247,"v":147.714},{"i":248,"v":147.712},{"i":249,"v":147.711},{"i":250,"v":147.715},{"i":252,"v":147.717},{"i":254,"v":147.721},{"i":256,"v":147.725},{"i":258,"v":147.729},{"i":260,"v":147.731},{"i":262,"v":147.734},{"i":264,"v":147.740},{"i":266,"v":147.740},{"i":268,"v":147.744},{"i":269,"v":147.741},{"i":271,"v":147.733},{"i":272,"v":147.733},{"i":274,"v":147.738},{"i":276,"v":147.734},{"i":278,"v":147.744},{"i":280,"v":147.748},{"i":281,"v":147.746},{"i":282,"v":147.749},{"i":284,"v":147.755},{"i":286,"v":147.761},{"i":287,"v":147.750},{"i":288,"v":147.737},{"i":289,"v":147.728},{"i":290,"v":147.721},{"i":292,"v":147.713},{"i":294,"v":147.709},{"i":296,"v":147.709},{"i":298,"v":147.707},{"i":300,"v":147.702},{"i":301,"v":147.705},{"i":302,"v":147.712}
],
"sig":[
{"i":112,"p":147.389,"t":"Buy"},{"i":116,"p":147.246,"t":"Buy"},{"i":120,"p":147.307,"t":"Buy"},{"i":126,"p":147.334,"t":"Buy"},{"i":131,"p":147.365,"t":"Buy"},{"i":135,"p":147.230,"t":"Buy"},{"i":140,"p":147.361,"t":"Buy"},{"i":151,"p":147.225,"t":"Buy"},{"i":158,"p":147.215,"t":"Buy"},{"i":163,"p":147.248,"t":"Buy"},{"i":170,"p":147.297,"t":"Buy"},{"i":174,"p":147.297,"t":"Buy"},{"i":188,"p":147.374,"t":"Buy"},{"i":191,"p":147.382,"t":"Buy"},{"i":214,"p":147.494,"t":"Buy"},
{"i":113,"p":147.359,"t":"Sell"},{"i":114,"p":147.312,"t":"Sell"},{"i":127,"p":147.296,"t":"Sell"},{"i":132,"p":147.329,"t":"Sell"},{"i":133,"p":147.235,"t":"Sell"},{"i":140,"p":147.287,"t":"Sell"},{"i":148,"p":147.217,"t":"Sell"},{"i":149,"p":147.230,"t":"Sell"},{"i":157,"p":147.178,"t":"Sell"},{"i":167,"p":147.203,"t":"Sell"},{"i":172,"p":147.269,"t":"Sell"},{"i":177,"p":147.436,"t":"Sell"},{"i":177,"p":147.367,"t":"Sell"},{"i":179,"p":147.412,"t":"Sell"},{"i":180,"p":147.361,"t":"Sell"},{"i":182,"p":147.306,"t":"Sell"},{"i":190,"p":147.379,"t":"Sell"},{"i":194,"p":147.456,"t":"Sell"},{"i":198,"p":147.392,"t":"Sell"},{"i":215,"p":147.463,"t":"Sell"}
],
"links":[
{"i1":112,"p1":147.389,"i2":113,"p2":147.359,"k":"r"},
{"i1":114,"p1":147.312,"i2":116,"p2":147.246,"k":"y"},
{"i1":114,"p1":147.312,"i2":120,"p2":147.307,"k":"y"},
{"i1":126,"p1":147.334,"i2":127,"p2":147.296,"k":"r"},
{"i1":131,"p1":147.365,"i2":132,"p2":147.329,"k":"r"},
{"i1":133,"p1":147.235,"i2":135,"p2":147.230,"k":"y"},
{"i1":157,"p1":147.178,"i2":158,"p2":147.215,"k":"r"},
{"i1":163,"p1":147.248,"i2":167,"p2":147.203,"k":"r"},
{"i1":170,"p1":147.297,"i2":172,"p2":147.269,"k":"r"},
{"i1":174,"p1":147.297,"i2":177,"p2":147.436,"k":"y"},
{"i1":174,"p1":147.297,"i2":179,"p2":147.412,"k":"y"},
{"i1":174,"p1":147.297,"i2":182,"p2":147.306,"k":"y"},
{"i1":190,"p1":147.379,"i2":194,"p2":147.456,"k":"y"},
{"i1":190,"p1":147.379,"i2":198,"p2":147.392,"k":"y"},
{"i1":214,"p1":147.494,"i2":215,"p2":147.463,"k":"r"}
],
"seps":[{"i":0},{"i":288}]
},
"layer":[
{"data":{"name":"seps"},"mark":{"type":"rule","color":"#c8c8c8","strokeWidth":1,"strokeDash":[3,3]},
 "encoding":{"x":{"field":"i","type":"quantitative","title":null,"scale":{"domain":[-10.5625,302.8125],"nice":false,"zero":false},
  "axis":{"orient":"bottom","title":null,"tickCount":60,"values":[-10.45,-2,6,14,22,30,38,46,54,62,70,78,86,94,102,110,118,126,134,142,150,158,166,174,182,190,198,206,214,222,230,238,246,254,262,270,278,286,294],
   "labelExpr":"datum.value < -9 ? '11 7 2025' : (datum.value < 0 ? '11 7 23:' + (60 + 5 * datum.value) : ((datum.value < 288 ? '14 7 ' : '15 7 ') + (floor(5 * (datum.value % 288) / 60) < 10 ? '0' : '') + floor(5 * (datum.value % 288) / 60) + ':' + ((5 * (datum.value % 288)) % 60 < 10 ? '0' : '') + ((5 * (datum.value % 288)) % 60)))",
   "labelAlign":"left","labelBaseline":"top","labelPadding":2,"tickSize":4,"tickColor":"#ffffff","labelColor":"#e6e6e6","labelFont":"Liberation Sans","labelFontSize":10,"labelOverlap":false,"labelFlush":false,"labelBound":false,"domain":false,"grid":false}}}},
{"data":{"name":"candles"},"mark":{"type":"rule","strokeWidth":1},
 "encoding":{"x":{"field":"i","type":"quantitative","title":null},
  "y":{"field":"l","type":"quantitative","title":null,"scale":{"domain":[146.8263,147.8034],"nice":false,"zero":false},
   "axis":{"orient":"right","title":null,"tickCount":40,"values":[146.85,146.88,146.91,146.94,146.97,147.0,147.03,147.06,147.09,147.12,147.15,147.18,147.21,147.24,147.27,147.3,147.33,147.36,147.39,147.42,147.45,147.48,147.51,147.54,147.57,147.6,147.63,147.66,147.69,147.72,147.75,147.78],
    "format":".3f","tickSize":4,"tickColor":"#ffffff","labelColor":"#e6e6e6","labelFont":"Liberation Sans","labelFontSize":10.5,"labelPadding":3,"labelBaseline":"middle","labelOverlap":false,"labelSeparation":0,"labelFlush":false,"labelBound":false,"domain":false,"grid":false}},
  "y2":{"field":"h"},
  "color":{"condition":{"test":"datum.c >= datum.o","value":"#00BFFF"},"value":"#FF0000"}}},
{"data":{"name":"candles"},"mark":{"type":"bar","width":5},
 "encoding":{"x":{"field":"i","type":"quantitative","title":null},
  "y":{"field":"o","type":"quantitative","title":null},"y2":{"field":"c"},
  "color":{"condition":{"test":"datum.c >= datum.o","value":"#00BFFF"},"value":"#FF0000"}}},
{"data":{"name":"slow"},"mark":{"type":"line","color":"#FFFF00","strokeWidth":1},
 "encoding":{"x":{"field":"i","type":"quantitative","title":null},"y":{"field":"v","type":"quantitative","title":null}}},
{"data":{"name":"fast"},"mark":{"type":"line","color":"#FFA500","strokeWidth":1},
 "encoding":{"x":{"field":"i","type":"quantitative","title":null},"y":{"field":"v","type":"quantitative","title":null}}},
{"data":{"name":"links"},"mark":{"type":"rule","strokeWidth":1},
 "encoding":{"x":{"field":"i1","type":"quantitative","title":null},"y":{"field":"p1","type":"quantitative","title":null},
  "x2":{"field":"i2"},"y2":{"field":"p2"},
  "color":{"condition":{"test":"datum.k == 'r'","value":"#FF0000"},"value":"#FFFF00"}}},
{"data":{"name":"sig"},"mark":{"type":"point","shape":"circle","filled":false,"size":64,"strokeWidth":1,"opacity":1},
 "encoding":{"x":{"field":"i","type":"quantitative","title":null},"y":{"field":"p","type":"quantitative","title":null},
  "color":{"condition":{"test":"datum.t == 'Buy'","value":"#FF0000"},"value":"#FFFF00"}}},
{"data":{"name":"sig"},"transform":[{"filter":"datum.t == 'Buy'"}],
 "mark":{"type":"text","align":"left","baseline":"middle","dx":7,"dy":12,"font":"Liberation Sans","fontSize":10.5,"fontWeight":"bold","color":"#FF0000"},
 "encoding":{"x":{"field":"i","type":"quantitative","title":null},"y":{"field":"p","type":"quantitative","title":null},"text":{"field":"t"}}},
{"data":{"name":"sig"},"transform":[{"filter":"datum.t == 'Sell'"}],
 "mark":{"type":"text","align":"left","baseline":"middle","dx":5,"dy":-9,"font":"Liberation Sans","fontSize":10.5,"fontWeight":"bold","color":"#FFFF00"},
 "encoding":{"x":{"field":"i","type":"quantitative","title":null},"y":{"field":"p","type":"quantitative","title":null},"text":{"field":"t"}}}
]
}
